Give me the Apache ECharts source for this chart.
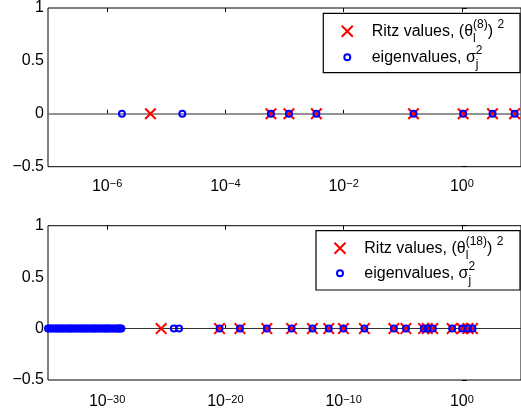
<!DOCTYPE html>
<html>
<head>
<meta charset="utf-8">
<script src="https://cdn.jsdelivr.net/npm/echarts@6/dist/echarts.min.js"></script>
<style>
  html, body { margin: 0; padding: 0; background: #fff; }
  #chart { width: 521px; height: 416px; }
</style>
</head>
<body>
<div id="chart"></div>
<script>
// eigenvalues sigma_j^2, same set in both panels (the tiny ones form the solid band)
const eigenvalues = [
  1e-35, 1.5e-35, 2e-35, 3e-35, 4e-35, 6e-35, 8e-35,
  1e-34, 1.5e-34, 2e-34, 3e-34, 4e-34, 6e-34, 8e-34,
  1e-33, 1.5e-33, 2e-33, 3e-33, 4e-33, 6e-33, 8e-33,
  1e-32, 1.5e-32, 2e-32, 3e-32, 4e-32, 6e-32, 8e-32,
  1e-31, 1.5e-31, 2e-31, 3e-31, 4e-31, 6e-31, 8e-31,
  1e-30, 1.5e-30, 2e-30, 3e-30, 4e-30, 6e-30, 8e-30,
  1e-29, 1.3e-29, 1.6e-29,
  4.4e-25, 1.2e-24,
  3.2e-21, 1.7e-19, 3.2e-17, 4.0e-15, 2.3e-13, 5.5e-12, 9.6e-11, 5.7e-9,
  1.78e-6, 1.87e-5, 5.9e-4, 1.19e-3, 3.46e-3, 0.152, 1.05, 3.3, 7.8
]
// Ritz values after 8 and after 18 steps
const ritz8 = [5.4e-6, 5.9e-4, 1.19e-3, 3.46e-3, 0.152, 1.05, 3.3, 7.8]
const ritz18 = [
  3.7e-26, 3.2e-21, 1.7e-19, 3.2e-17, 4.0e-15, 2.3e-13, 5.5e-12, 9.6e-11, 5.7e-9,
  1.78e-6, 1.87e-5, 5.9e-4, 1.19e-3, 3.46e-3, 0.152, 1.05, 3.3, 7.8
]
// x axes run over log10 of the value
const topRange = [-7, 1]
const topTicks = [-6, -4, -2, 0]
const bottomRange = [-35, 5]
const bottomTicks = [-30, -20, -10, 0]
const yRange = [-0.5, 1]

const FONT = '"Liberation Sans", Arial, Helvetica, sans-serif'
const X_PATH = 'path://M0,1.2L1.2,0L10,8.8L8.8,10ZM8.8,0L10,1.2L1.2,10L0,8.8Z'

const toPoints = (vals) => vals.map((v) => [Math.log10(v), 0])
const minus = (v) => String(v).replace('-', '\u2212')

function xAxes(gridIndex, range, ticks, margin) {
  const base = {
    type: 'value', gridIndex, min: range[0], max: range[1],
    splitLine: { show: false },
    axisLine: { show: false },
    axisTick: { inside: true, length: 4, customValues: ticks, lineStyle: { color: '#000' } },
  }
  return [
    {
      ...base, position: 'bottom',
      axisLabel: {
        customValues: ticks, margin, color: '#000', fontFamily: FONT,
        formatter: (v) => '{b|10}{s|' + minus(v) + '}',
        rich: {
          b: { fontSize: 16, lineHeight: 16, verticalAlign: 'bottom', fontFamily: FONT, color: '#000' },
          s: { fontSize: 11, lineHeight: 12, padding: [0, 0, 11, 0], verticalAlign: 'top', fontFamily: FONT, color: '#000' },
        },
      },
    },
    { ...base, position: 'top', axisLabel: { show: false } },
  ]
}

function yAxis(gridIndex) {
  return {
    type: 'value', gridIndex, min: yRange[0], max: yRange[1], interval: 0.5,
    splitLine: { show: false },
    axisLine: { show: false },
    axisTick: { inside: true, length: 5, lineStyle: { color: '#000' } },
    axisLabel: { margin: 4, color: '#000', fontSize: 16, fontFamily: FONT, formatter: minus },
  }
}

// legend boxes drawn by hand so that the stacked sub/superscripts line up
const legendRich = {
  sp: { fontSize: 12, lineHeight: 14, verticalAlign: 'top', fontFamily: FONT, fill: '#000' },
  ss: { fontSize: 12, lineHeight: 8, verticalAlign: 'top', fontFamily: FONT, fill: '#000' },
  sb: { fontSize: 12, lineHeight: 12, verticalAlign: 'bottom', width: 0, fontFamily: FONT, fill: '#000' },
  sj: { fontSize: 12, lineHeight: 10, verticalAlign: 'bottom', width: 0, fontFamily: FONT, fill: '#000' },
}

function legendBox(x, y, w, h, rows, iconX, textX, ritzLabel) {
  const label = (text, ty) => ({
    type: 'text', z: 101,
    style: {
      text, x: textX, y: ty, verticalAlign: 'middle', align: 'left',
      fontSize: 16, lineHeight: 26, fontFamily: FONT, fill: '#000', rich: legendRich,
    },
  })
  const cross = (cx, cy) => [
    { type: 'line', z: 101, shape: { x1: cx - 5.5, y1: cy - 5.5, x2: cx + 5.5, y2: cy + 5.5 }, style: { stroke: '#ff0000', lineWidth: 2 } },
    { type: 'line', z: 101, shape: { x1: cx + 5.5, y1: cy - 5.5, x2: cx - 5.5, y2: cy + 5.5 }, style: { stroke: '#ff0000', lineWidth: 2 } },
  ]
  return [
    { type: 'rect', z: 100, shape: { x, y, width: w, height: h }, style: { fill: '#fff', stroke: '#000', lineWidth: 1.2 } },
    ...cross(iconX, rows[0]),
    { type: 'circle', z: 101, shape: { cx: iconX, cy: rows[1], r: 3 }, style: { fill: 'none', stroke: '#0000ff', lineWidth: 2 } },
    label(ritzLabel, rows[0]),
    label('eigenvalues, \u03c3{sj|j}{ss|2}', rows[1]),
  ]
}

function ritzSeries(name, vals, axisIdx, lineColor, lineWidth) {
  return {
    name, type: 'scatter', xAxisIndex: axisIdx, yAxisIndex: axisIdx / 2, z: 10,
    data: toPoints(vals),
    symbol: X_PATH, symbolSize: 12,
    itemStyle: { color: '#ff0000', opacity: 1 },
    markLine: {
      silent: true, symbol: 'none', z: 1, label: { show: false },
      lineStyle: { color: lineColor, width: lineWidth, type: 'solid' },
      data: [{ yAxis: 0 }],
    },
  }
}

function eigSeries(axisIdx) {
  return {
    name: 'eigenvalues', type: 'scatter', xAxisIndex: axisIdx, yAxisIndex: axisIdx / 2, z: 11,
    data: toPoints(eigenvalues),
    symbol: 'circle', symbolSize: 6,
    itemStyle: { color: 'rgba(0,0,0,0)', borderColor: '#0000ff', borderWidth: 2, opacity: 1 },
  }
}

const chart = echarts.init(document.getElementById('chart'), null, { renderer: 'canvas' })
chart.setOption({
  animation: false,
  backgroundColor: '#fff',
  grid: [
    { left: 48, top: 7.3, width: 477.7, height: 159.4, show: true, borderColor: '#000', borderWidth: 1, backgroundColor: 'transparent' },
    { left: 48, top: 225.7, width: 477.7, height: 157.6, show: true, borderColor: '#000', borderWidth: 1, backgroundColor: 'transparent' },
  ],
  xAxis: [...xAxes(0, topRange, topTicks, 12), ...xAxes(1, bottomRange, bottomTicks, 14)],
  yAxis: [yAxis(0), yAxis(1)],
  series: [
    ritzSeries('Ritz values, (\u03b8_l^(8))^2', ritz8, 0, '#6f6f6f', 1.5),
    eigSeries(0),
    ritzSeries('Ritz values, (\u03b8_l^(18))^2', ritz18, 2, '#333333', 1.2),
    eigSeries(2),
  ],
  graphic: [
    ...legendBox(323.3, 13.3, 196.7, 59.4, [31.3, 57.3], 347.3, 371.7,
      'Ritz values, (\u03b8{sb|l}{sp|(8)}) {sp|2}'),
    ...legendBox(316, 230.7, 204, 59.3, [248.3, 273.3], 340, 364.3,
      'Ritz values, (\u03b8{sb|l}{sp|(18)}) {sp|2}'),
  ],
})
</script>
</body>
</html>
